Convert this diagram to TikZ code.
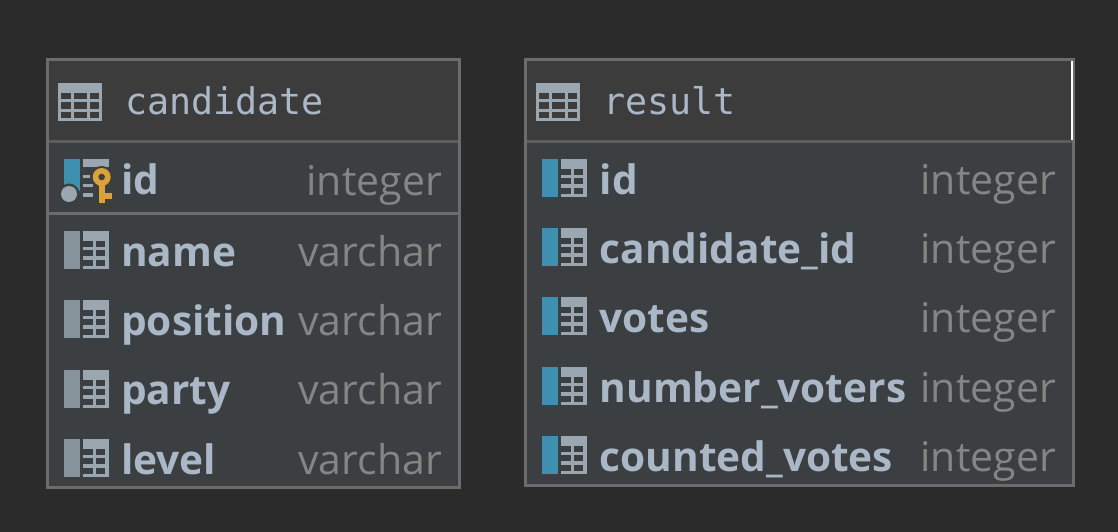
\documentclass[tikz,border=0pt]{standalone}
\usepackage{fontspec}
\setmainfont{Open Sans}
\newfontfamily\titlefont{DejaVu Sans Mono}
\definecolor{pagebg}{HTML}{2B2B2B}
\definecolor{headbg}{HTML}{3C3C3C}
\definecolor{bodybg}{HTML}{3C3F41}
\definecolor{frame}{HTML}{6C6C6C}
\definecolor{divider}{HTML}{5C5C5C}
\definecolor{ink}{HTML}{A9B7C6}
\definecolor{iconc}{HTML}{9AA7B0}
\definecolor{barblue}{HTML}{3F8FAE}
\definecolor{bargrey}{HTML}{87939A}
\definecolor{typec}{HTML}{858585}
\definecolor{keyc}{HTML}{DDA13A}
\tikzset{
  x=1pt,y=-1pt,
  titletext/.style={anchor=base west,inner sep=0pt,text=ink,font=\titlefont\fontsize{36.7}{37}\selectfont},
  fieldtext/.style={anchor=base west,inner sep=0pt,text=ink,font=\bfseries\fontsize{40.6}{41}\selectfont},
  typetext/.style={anchor=base east,inner sep=0pt,text=typec,font=\fontsize{41}{41}\selectfont},
}
% #1 x left, #2 y top of table icon
\newcommand{\tblicon}[3]{%
  \fill[iconc] (#1,#2) rectangle ++(44,38);
  \foreach \yy/\hh in {10/6,19/7,29/6}{
    \foreach \xx/\ww in {3/10,16/13,32/9}{
      \fill[#3] (#1+\xx,#2+\yy) rectangle ++(\ww,\hh);
    }
  }
}
% #1 x of bar, #2 y top, #3 bar colour
\newcommand{\colicon}[3]{%
  \fill[#3] (#1,#2) rectangle ++(16,38);
  \fill[iconc] (#1+19,#2) rectangle ++(26,38);
  \foreach \yy/\hh in {10/6,19/6,29/6}{
    \foreach \xx/\ww in {19/10,32/9}{
      \fill[bodybg] (#1+\xx,#2+\yy) rectangle ++(\ww,\hh);
    }
  }
}
\begin{document}
\begin{tikzpicture}
\useasboundingbox (0,0) rectangle (1118,532);
\fill[pagebg] (0,0) rectangle (1118,532);
% candidate
\fill[bodybg] (47.5,59.5) rectangle (459,487);
\fill[headbg] (47.5,59.5) rectangle (459,141.5);
\draw[divider,line width=3pt] (47.5,141.5) -- (459,141.5);
\draw[frame,line width=3pt] (47.5,213.5) -- (459,213.5);
\draw[frame,line width=3pt] (47.5,59.5) rectangle (459.5,487);
\tblicon{58}{83}{headbg}
\node[titletext] (t1) at (125,114) {candidate};
% id row with key
\fill[barblue] (64,159) rectangle (80,191);
\fill[bodybg] (69,194) circle (10.5);
\fill[iconc] (69,194) circle (8);
\fill[iconc] (83,159) rectangle (109,167);
\fill[iconc] (83,175) rectangle (90,178);
\fill[iconc] (83,184) rectangle (93,187);
\fill[iconc] (83,193) rectangle (93,197);
\fill[bodybg] (101.7,177) circle (11);
\fill[keyc] (101.7,177) circle (9);
\fill[bodybg] (101.7,177) circle (3.3);
\fill[keyc] (99,184) rectangle (105,203);
\fill[keyc] (105,193) rectangle (112,199);
\node[fieldtext] (c1) at (121,194.5) {id};
\node[typetext] (c1t) at (442,195) {integer};
\colicon{64}{231}{bargrey}
\node[fieldtext] (c2) at (121,266) {name};
\node[typetext] (c2t) at (442,266) {varchar};
\colicon{64}{300}{bargrey}
\node[fieldtext] (c3) at (121,335) {position};
\node[typetext] (c3t) at (442,335) {varchar};
\colicon{64}{370}{bargrey}
\node[fieldtext] (c4) at (121,404) {party};
\node[typetext] (c4t) at (442,404) {varchar};
\colicon{64}{439}{bargrey}
\node[fieldtext] (c5) at (121,474) {level};
\node[typetext] (c5t) at (442,474) {varchar};
% result
\fill[bodybg] (525.5,59.5) rectangle (1074,485);
\fill[headbg] (525.5,59.5) rectangle (1074,141.5);
\draw[divider,line width=3pt] (525.5,141.5) -- (1072,141.5);
\draw[frame,line width=3pt] (525.5,59.5) rectangle (1073.5,485);
\fill[white] (1071,61) rectangle (1073,140);
\tblicon{536}{83}{headbg}
\node[titletext] (t2) at (603,114) {result};
\colicon{542}{159}{barblue}
\node[fieldtext] (r1) at (599.5,194) {id};
\node[typetext] (r1t) at (1056,194) {integer};
\colicon{542}{228}{barblue}
\node[fieldtext] (r2) at (599.5,263) {candidate\_id};
\node[typetext] (r2t) at (1056,263) {integer};
\colicon{542}{297}{barblue}
\node[fieldtext] (r3) at (599.5,332) {votes};
\node[typetext] (r3t) at (1056,332) {integer};
\colicon{542}{367}{barblue}
\node[fieldtext] (r4) at (599.5,402) {number\_voters};
\node[typetext] (r4t) at (1056,402) {integer};
\colicon{542}{436}{barblue}
\node[fieldtext] (r5) at (599.5,471) {counted\_votes};
\node[typetext] (r5t) at (1056,471) {integer};
\end{tikzpicture}
\end{document}
